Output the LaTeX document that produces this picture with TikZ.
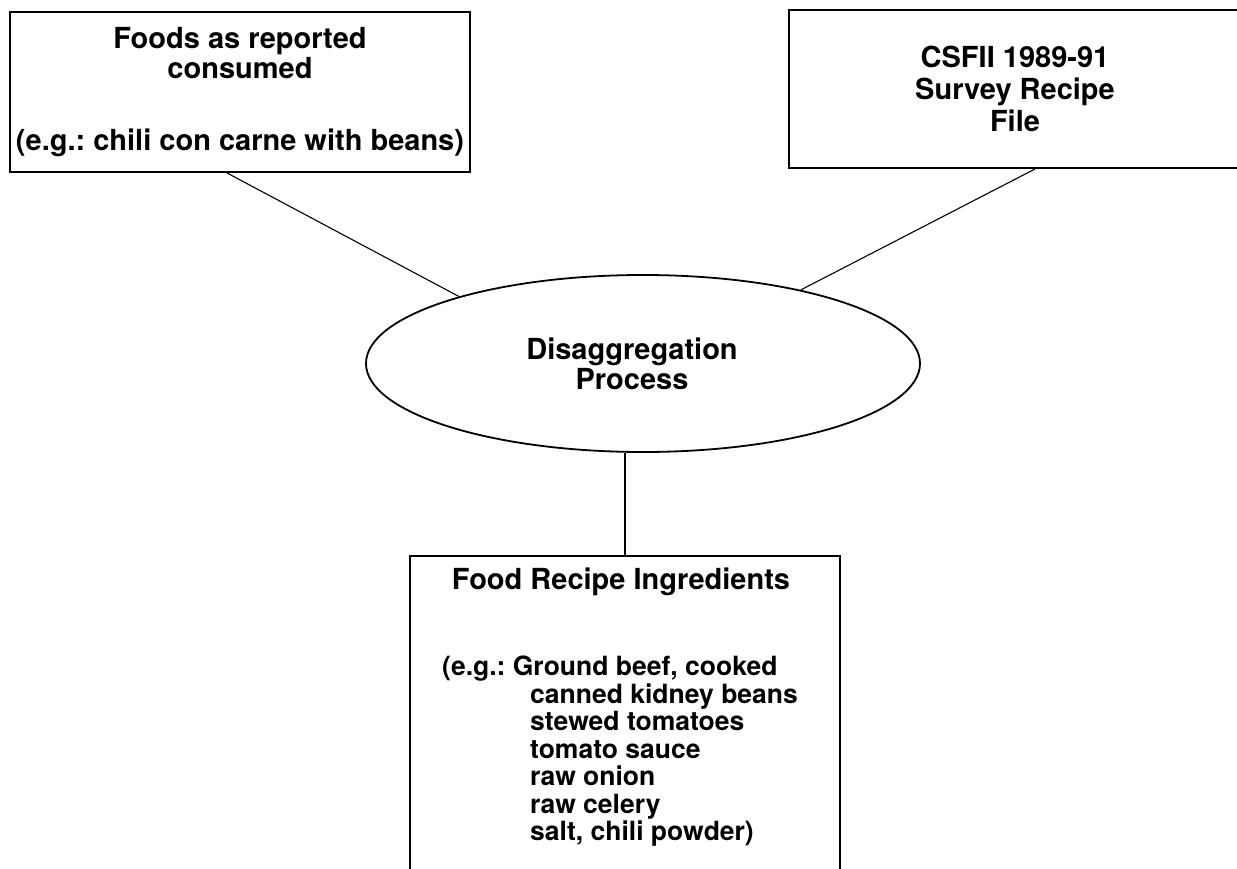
\documentclass[tikz,border=0pt]{standalone}
\usepackage{fontspec}
\setmainfont{TeX Gyre Heros}
\usetikzlibrary{shapes.geometric,calc}
\frenchspacing
\begin{document}
\begin{tikzpicture}[x=1pt,y=-1pt,
  box/.style={draw, line width=2pt, rectangle, inner sep=0pt, align=center,
    font=\bfseries\fontsize{29}{30}\selectfont},
  procbox/.style={draw, line width=1.8pt, ellipse, inner sep=0pt},
  lbl/.style={inner sep=0pt, font=\bfseries\fontsize{29}{30}\selectfont},
  link/.style={line width=1.1pt}]
\useasboundingbox (0,0) rectangle (1237,869);
\fill[white] (0,0) rectangle (1237,869);
\begin{scope}
\clip (0,0) rectangle (1237,869);
\node[box, minimum width=460pt, minimum height=160pt] (foods) at (240,92)
  {Foods as reported\\consumed\\[42pt](e.g.: chili con carne with beans)};
\node[box, minimum width=452pt, minimum height=158pt,
  font=\bfseries\fontsize{29}{32}\selectfont] (csfii) at (1015,89)
  {CSFII 1989-91\\Survey Recipe\\File};
\node[procbox, minimum width=554pt, minimum height=177pt] (dis) at (643,363.5) {};
\node[box, minimum width=430pt, minimum height=420pt, anchor=north] (ingr) at (625,555) {};
\end{scope}
\node[lbl, align=center] (distext) at (632,364) {Disaggregation\\Process};
\node[lbl, anchor=base] (ingrtitle) at (621,589) {Food Recipe Ingredients};
\node[lbl, anchor=north west, align=left,
  font=\bfseries\fontsize{26.5}{27.5}\selectfont] (ingrlist) at (442,656)
  {(e.g.: Ground beef, cooked\\
   \hspace*{88pt}canned kidney beans\\
   \hspace*{88pt}stewed tomatoes\\
   \hspace*{88pt}tomato sauce\\
   \hspace*{88pt}raw onion\\
   \hspace*{88pt}raw celery\\
   \hspace*{88pt}salt, chili powder)};
\draw[link] ($(foods.south west)!0.472!(foods.south east)$) -- (dis.160);
\draw[link] ($(csfii.south west)!0.544!(csfii.south east)$) -- (dis.25.7);
\draw[link] (dis.south -| ingr.north) -- (ingr.north);
\end{tikzpicture}
\end{document}
